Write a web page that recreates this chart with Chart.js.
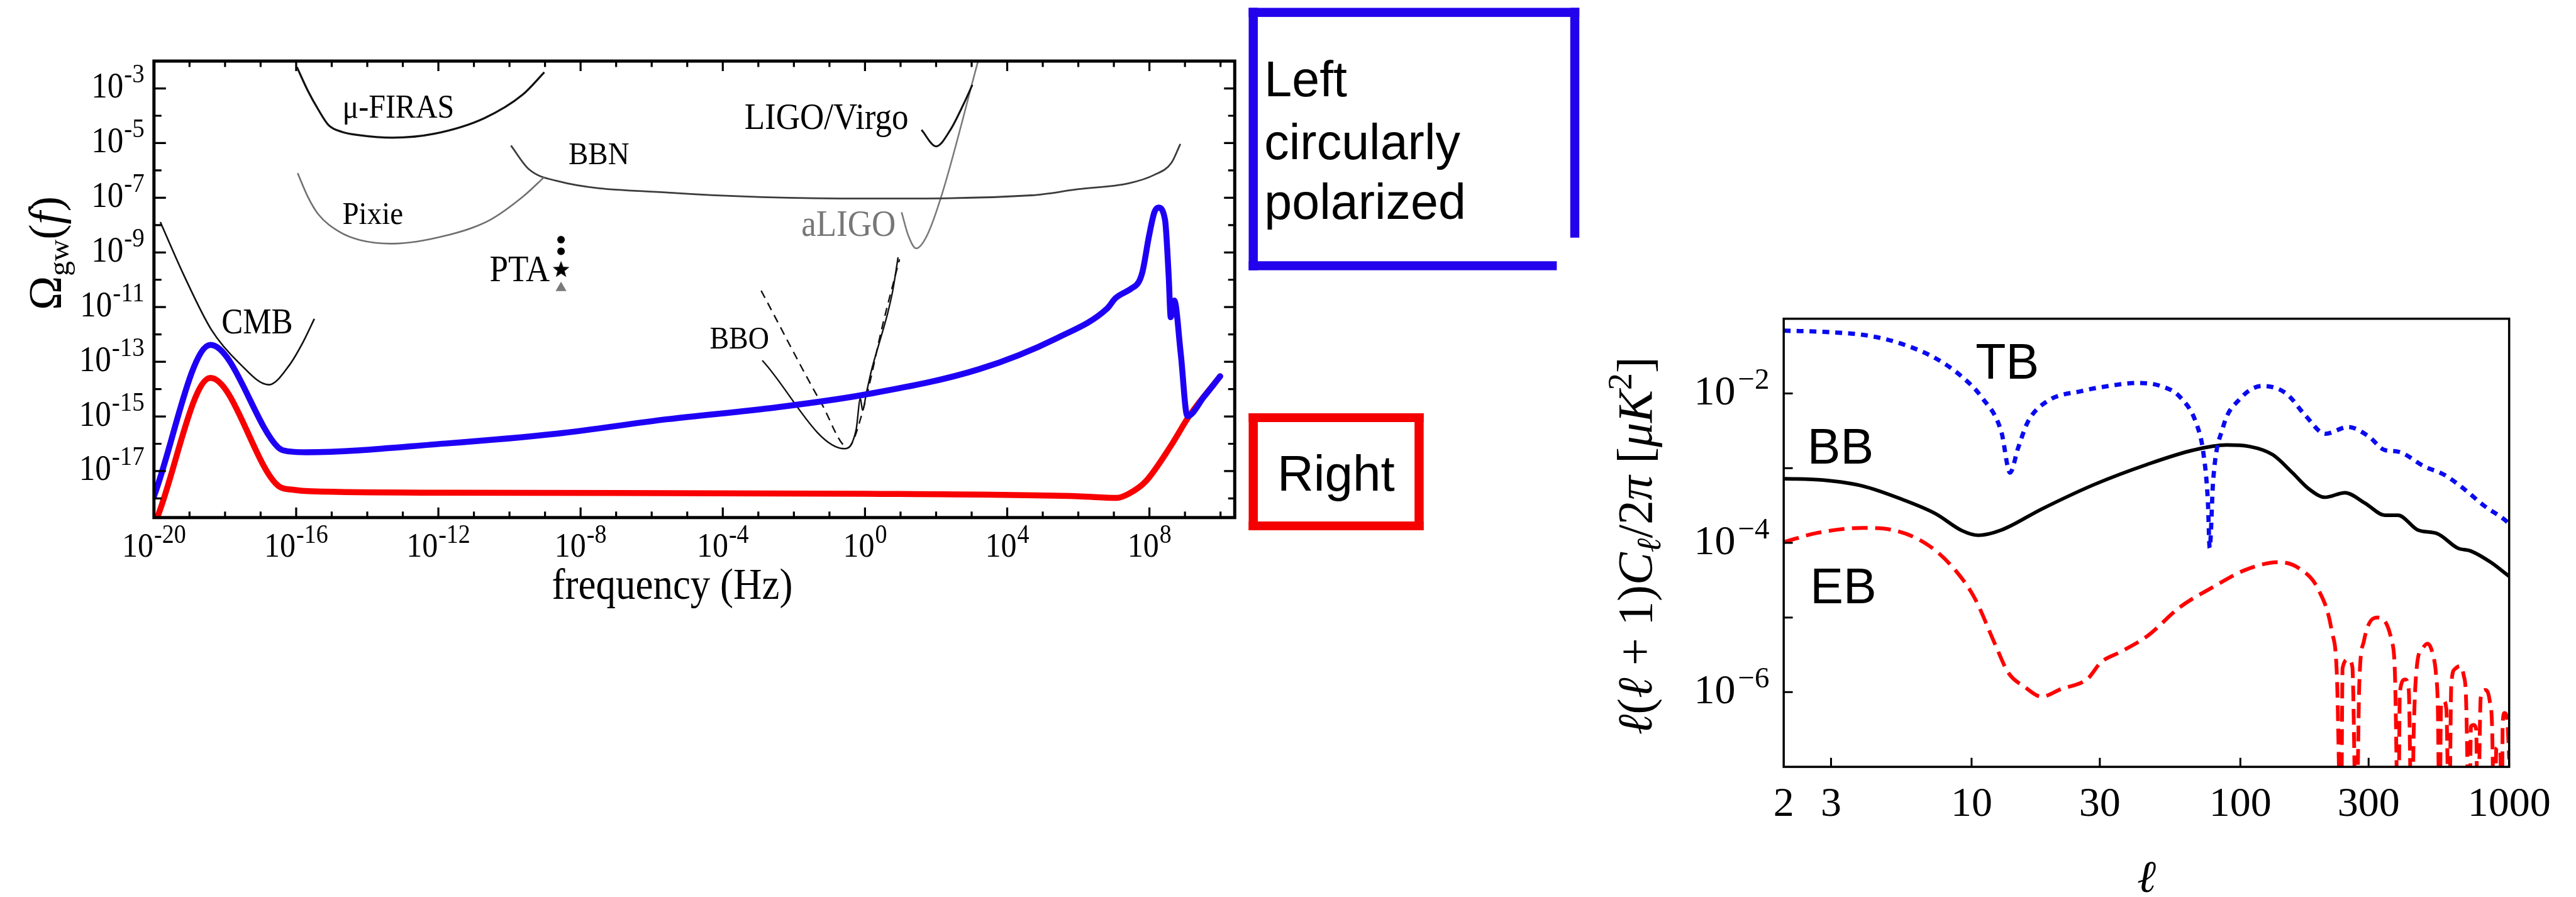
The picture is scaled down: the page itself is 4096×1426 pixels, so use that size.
<!DOCTYPE html>
<html>
<head>
<meta charset="utf-8">
<script src="https://cdn.jsdelivr.net/npm/chart.js@4.4.1/dist/chart.umd.min.js"></script>
<style>
html,body{margin:0;padding:0;background:#ffffff;}
body{position:relative;width:4096px;height:1426px;overflow:hidden;}
canvas{position:absolute;display:block;}
</style>
</head>
<body>
<canvas id="deco" width="4096" height="1426" style="left:0;top:0;width:4096px;height:1426px"></canvas>
<canvas id="gwChart" width="2000" height="1000" style="left:0;top:0;width:2000px;height:1000px"></canvas>
<canvas id="clChart" width="1596" height="1026" style="left:2500px;top:400px;width:1596px;height:1026px"></canvas>
<script>
// ================= DATA: left panel  (frequency [Hz], Omega_gw) =================
const leftPolFreq  = [1e-20, 3.89e-19, 3.16e-17, 6.31e-17, 1.91e-16, 1.55e-12, 2.09e-9, 2.82e-6, 3.16e-3, 1, 1.62e3, 2.63e5, 6.61e6, 1.1e7, 3.02e7, 5.01e7, 6.46e7, 9.77e7, 1.38e8, 1.78e8, 2.75e8, 3.47e8, 3.98e8, 5.01e8, 7.59e8, 1.17e9, 3.47e9, 9.77e9];
const leftPolOmega = [1.2e-18, 4.17e-13, 7.24e-17, 5.25e-17, 4.9e-17, 1.02e-16, 2.34e-16, 7.94e-16, 2.14e-15, 6.31e-15, 5.37e-14, 7.59e-13, 9.12e-12, 2.09e-11, 4.68e-11, 8.32e-11, 2.09e-10, 4.07e-9, 2.95e-8, 4.37e-8, 1.55e-8, 1.51e-10, 4.27e-12, 1.74e-11, 2.04e-13, 1.02e-15, 5.37e-15, 2.95e-14];

const rightPolFreq  = [1.32e-20, 3.89e-19, 3.16e-17, 7.94e-17, 2.75e-16, 1.55e-12, 1.2, 1e6, 1.2e7, 2.69e7, 7.94e7, 4.17e8, 1.26e9, 9.77e9];
const rightPolOmega = [2.51e-19, 2.57e-14, 2.88e-18, 2.09e-18, 1.82e-18, 1.62e-18, 1.48e-18, 1.2e-18, 1.05e-18, 1.51e-18, 4.27e-18, 9.12e-17, 9.55e-16, 2.95e-14];

const cmbFreq  = [1.51e-20, 6.92e-20, 4.17e-19, 2.51e-18, 1.7e-17, 6.46e-17, 1.58e-16, 3.24e-16];
const cmbOmega = [1.29e-8, 1.48e-10, 1.45e-12, 8.91e-14, 1.45e-14, 7.59e-14, 5.37e-13, 3.72e-12];

const firasFreq  = [1.05e-16, 2.14e-16, 4.17e-16, 8.13e-16, 1.95e-15, 5.89e-15, 5.01e-14, 7.59e-13, 1.95e-11, 2.4e-10, 9.55e-10];
const firasOmega = [6.03e-3, 8.13e-4, 1.7e-4, 4.57e-5, 2.57e-5, 1.95e-5, 1.58e-5, 2.19e-5, 8.13e-5, 6.03e-4, 3.89e-3];

const pixieFreq  = [1.1e-16, 2.14e-16, 4.17e-16, 1.66e-15, 6.31e-15, 5.01e-14, 1.55e-12, 2.75e-11, 2.4e-10, 9.55e-10];
const pixieOmega = [7.94e-7, 1.07e-7, 2.51e-8, 5.62e-9, 2.82e-9, 2.09e-9, 4.07e-9, 1.51e-8, 1.1e-7, 5.75e-7];

const bbnFreq  = [1.1e-10, 3.47e-10, 2.09e-9, 2.82e-6, 1.2, 4.79e4, 9.33e5, 2.63e7, 1.38e8, 4.17e8, 7.41e8];
const bbnOmega = [8.13e-6, 1.12e-6, 4.17e-7, 1.55e-7, 9.33e-8, 1.23e-7, 2.04e-7, 3.39e-7, 6.92e-7, 1.91e-6, 9.33e-6];

const ligoFreq  = [38.9, 100, 251, 589, 1047];
const ligoOmega = [3.02e-5, 7.59e-6, 3.02e-5, 2.63e-4, 1.35e-3];

const aligoFreq  = [10.7, 16.6, 27.5, 55, 151, 1514];
const aligoOmega = [2.95e-8, 4.07e-9, 1.41e-9, 4.07e-9, 1.55e-7, 1e-2];

const bboFreq  = [1.29e-3, 0.269, 0.562, 0.741, 0.851, 1.1, 1.55, 2.57, 4.27, 6.03, 8.51];
const bboOmega = [1.12e-13, 6.61e-17, 3.24e-16, 4.57e-15, 1.7e-15, 7.41e-15, 5.37e-14, 5.37e-13, 5.5e-12, 3.98e-11, 6.61e-10];

const bboDashFreq  = [1.2e-3, 0.0617, 0.339, 0.479, 1.1, 3.09, 9.33];
const bboDashOmega = [3.98e-11, 2.75e-15, 7.24e-17, 1.41e-16, 5.37e-15, 2.04e-12, 5.62e-10];

const ptaFreq = [2.82e-9];
const ptaCircleOmega = [2.95e-9, 1.1e-9];
const ptaStarOmega = [2.45e-10];
const ptaTriangleOmega = [5.01e-11];

const gwLabelTexts = ['μ-FIRAS', 'LIGO/Virgo', 'BBN', 'Pixie', 'aLIGO', 'PTA', 'CMB', 'BBO'];
const gwLabelFreq  = [2e-15, 4.07e-4, 4.57e-9, 2e-15, 1.62e-2, 2.75e-11, 7.94e-19, 4.27e-5];
const gwLabelOmega = [8.32e-5, 3.24e-5, 1.66e-6, 1.1e-8, 4.07e-9, 9.12e-11, 1.12e-12, 3.02e-13];

const gwXTickValues = [1e-20, 1e-16, 1e-12, 1e-8, 1e-4, 1, 1e4, 1e8];
const gwXTickExps   = ['-20', '-16', '-12', '-8', '-4', '0', '4', '8'];
const gwYTickValues = [1e-3, 1e-5, 1e-7, 1e-9, 1e-11, 1e-13, 1e-15, 1e-17];
const gwYTickExps   = ['-3', '-5', '-7', '-9', '-11', '-13', '-15', '-17'];
const gwXTitle = 'frequency (Hz)';

const boxLeftLines = ['Left', 'circularly', 'polarized'];
const boxRightText = 'Right';

// ================= DATA: right panel  (multipole l, l(l+1)C_l/2pi) =================
const tbEll = [2, 2.97, 4.18, 5.53, 7.35, 9.23, 10.9, 12.9, 13.9, 14.9, 16.2, 19.2, 25.5, 33.9, 41.3, 50.4, 59.7, 68.7, 72.8, 75.7, 76.9, 79.2, 86.1, 99.3, 121, 148, 175, 207, 252, 299, 345, 386, 484, 574, 680, 805, 982, 1000];
const tbVal = [6.92e-2, 6.61e-2, 5.89e-2, 4.57e-2, 2.95e-2, 1.66e-2, 8.91e-3, 3.09e-3, 8.71e-4, 1.86e-3, 4.17e-3, 7.94e-3, 1.07e-2, 1.29e-2, 1.38e-2, 1.26e-2, 8.91e-3, 3.89e-3, 1.62e-3, 3.63e-4, 8.51e-5, 6.76e-4, 3.47e-3, 8.32e-3, 1.26e-2, 1e-2, 5.01e-3, 2.88e-3, 3.55e-3, 2.69e-3, 1.74e-3, 1.66e-3, 1.05e-3, 8.13e-4, 5.25e-4, 3.16e-4, 1.91e-4, 1.78e-4];

const bbEll = [2, 2.8, 3.94, 5.53, 7.35, 9.23, 10.6, 12.9, 18.2, 28.6, 45, 66.8, 88.7, 108, 132, 156, 180, 207, 245, 291, 345, 386, 458, 542, 643, 720, 853, 1000];
const bbVal = [7.24e-4, 6.92e-4, 5.75e-4, 3.8e-4, 2.45e-4, 1.45e-4, 1.26e-4, 1.48e-4, 2.82e-4, 6.03e-4, 1.12e-3, 1.74e-3, 2.04e-3, 1.95e-3, 1.51e-3, 8.71e-4, 5.25e-4, 4.07e-4, 4.68e-4, 3.39e-4, 2.34e-4, 2.34e-4, 1.48e-4, 1.32e-4, 8.51e-5, 7.76e-5, 5.5e-5, 3.55e-5];

const ebEll = [2, 2.65, 3.94, 5.24, 6.95, 8.71, 10.3, 12.2, 13.7, 15.8, 18.2, 21.5, 27, 30.3, 35.9, 45, 59.7, 79.3, 105, 139, 165, 196, 219, 228.6, 237, 240, 252, 261, 270, 277, 288, 322, 366, 376, 387, 392, 410, 423, 434, 442, 455, 475, 497, 519, 535, 543, 551, 558, 571, 584, 598, 609, 628, 657, 677, 691, 711, 721, 738, 754, 764, 784, 817, 847, 864, 881, 896, 906, 927, 940, 946, 961, 985, 1000];
const ebVal = [1.02e-4, 1.35e-4, 1.58e-4, 1.45e-4, 9.12e-5, 4.27e-5, 1.78e-5, 4.47e-6, 1.82e-6, 1.17e-6, 8.71e-7, 1.1e-6, 1.51e-6, 2.51e-6, 3.47e-6, 5.62e-6, 1.38e-5, 2.57e-5, 4.37e-5, 5.5e-5, 4.57e-5, 2.29e-5, 6.46e-6, 1.7e-6, 1e-8, 2.09e-6, 2.75e-6, 2.19e-6, 1e-8, 1.29e-6, 4.79e-6, 1e-5, 4.79e-6, 1.7e-6, 1e-8, 1e-6, 1.48e-6, 1.1e-6, 1e-8, 3.47e-7, 2.45e-6, 3.8e-6, 4.47e-6, 3.31e-6, 1.66e-6, 5.89e-7, 1e-8, 6.92e-7, 7.59e-7, 5.89e-7, 1e-8, 1.23e-6, 2.04e-6, 2.24e-6, 1.7e-6, 8.51e-7, 1e-8, 3.47e-7, 3.63e-7, 3.16e-7, 1e-8, 8.51e-7, 1.07e-6, 7.59e-7, 3.47e-7, 1e-8, 1.74e-7, 1.82e-7, 1.58e-7, 1e-8, 3.8e-7, 5.25e-7, 3.98e-7, 1.26e-7];

const clLabelTexts = ['TB', 'BB', 'EB'];
const clLabelEll   = [10.35, 2.45, 2.51];
const clLabelVal   = [1.58e-2, 1.15e-3, 1.55e-5];

const clXTickValues = [2, 3, 10, 30, 100, 300, 1000];
const clXTickLabels = ['2', '3', '10', '30', '100', '300', '1000'];
const clYTickValues = [1e-2, 1e-4, 1e-6];
const clYTickExps   = ['\u22122', '\u22124', '\u22126'];
const clYMinorValues = [1e-3, 1e-5];

// ================= helpers =================
const pairs = (xs, ys) => xs.map((x, i) => ({x: x, y: ys[i]}));
const SERIF = '"Liberation Serif", "Times New Roman", serif';
const SANS = '"Liberation Sans", Arial, sans-serif';

function drawPow(ctx, x, y, base, exp, bf, ef, rise, align, gap, stretch) {
  stretch = stretch || 1;
  ctx.font = bf; const wb = ctx.measureText(base).width;
  ctx.font = ef; const we = ctx.measureText(exp).width;
  const w = wb + gap + we;
  const x0 = align === 'center' ? x - w / 2 : (align === 'right' ? x - w : x);
  ctx.save();
  ctx.translate(x0, y); ctx.scale(1, stretch);
  ctx.textAlign = 'left'; ctx.textBaseline = 'alphabetic';
  ctx.font = bf; ctx.fillText(base, 0, 0);
  ctx.font = ef; ctx.fillText(exp, wb + gap, -rise / stretch);
  ctx.restore();
}
function runsWidth(ctx, runs, size) {
  let w = 0;
  for (const r of runs) {
    ctx.font = (r.italic ? 'italic ' : '') + (size * (r.scale || 1)) + 'px ' + SERIF;
    w += ctx.measureText(r.t).width;
  }
  return w;
}
function drawRuns(ctx, runs, size) {
  let x = 0;
  ctx.textAlign = 'left'; ctx.textBaseline = 'alphabetic';
  for (const r of runs) {
    ctx.font = (r.italic ? 'italic ' : '') + (size * (r.scale || 1)) + 'px ' + SERIF;
    ctx.fillText(r.t, x, (r.dy || 0) * size);
    x += ctx.measureText(r.t).width;
  }
}
function makeStar(r, color) {
  const c = document.createElement('canvas');
  c.width = c.height = Math.ceil(2 * r + 2);
  const g = c.getContext('2d');
  g.fillStyle = color; g.beginPath();
  for (let i = 0; i < 10; i++) {
    const a = -Math.PI / 2 + i * Math.PI / 5;
    const rr = (i % 2) ? r * 0.42 : r;
    g.lineTo(c.width / 2 + rr * Math.cos(a), c.height / 2 + 0.08 * r + rr * Math.sin(a));
  }
  g.closePath(); g.fill();
  return c;
}

// ================= decorations outside the charts =================
(function () {
  const dc = document.getElementById('deco').getContext('2d');
  dc.fillStyle = '#2302ec';
  dc.fillRect(1985.5, 12.5, 14.5, 417.1);
  dc.fillRect(1985.5, 12.5, 525.7, 14.4);
  dc.fillRect(2496.8, 12.5, 14.4, 365.3);
  dc.fillRect(1985.5, 415.3, 489.9, 14.3);
  dc.fillStyle = '#f40000';
  dc.fillRect(1985.5, 657, 14.5, 186);
  dc.fillRect(2249.2, 657, 14.5, 186);
  dc.fillRect(1985.5, 657, 278.2, 14);
  dc.fillRect(1985.5, 829, 278.2, 14);
  dc.fillStyle = '#000';
  dc.textAlign = 'left'; dc.textBaseline = 'alphabetic';
  dc.font = '79px ' + SANS;
  dc.fillText(boxLeftLines[0], 2010.3, 153);
  dc.fillText(boxLeftLines[1], 2010.3, 253);
  dc.fillText(boxLeftLines[2], 2010.3, 347.8);
  dc.font = '80px ' + SANS;
  dc.fillText(boxRightText, 2031, 780);
})();

// ================= left chart =================
const gwLabelStyle = {
  'μ-FIRAS': {size: 48, color: '#000'}, 'LIGO/Virgo': {size: 53, color: '#000'},
  'BBN': {size: 47, color: '#000'}, 'Pixie': {size: 47, color: '#000'},
  'aLIGO': {size: 53, color: '#777'}, 'PTA': {size: 53, color: '#000'},
  'CMB': {size: 51, color: '#000'}, 'BBO': {size: 46, color: '#000'}
};
const TXT_STRETCH = 1.1;

const gwDecor = {
  id: 'gwDecor',
  afterDatasetsDraw(chart) {
    const ctx = chart.ctx, a = chart.chartArea, xs = chart.scales.x, ys = chart.scales.y;
    ctx.save();
    ctx.strokeStyle = '#000'; ctx.lineWidth = 5;
    ctx.strokeRect(a.left, a.top, a.right - a.left, a.bottom - a.top);
    ctx.lineWidth = 3.2; ctx.beginPath();
    for (let e = -19; e <= 10; e++) {
      const px = xs.getPixelForValue(Math.pow(10, e));
      const L = (e % 4 === 0) ? 16 : 9.5;
      ctx.moveTo(px, a.bottom); ctx.lineTo(px, a.bottom - L);
      ctx.moveTo(px, a.top); ctx.lineTo(px, a.top + L);
    }
    for (let e = -18; e <= -3; e++) {
      const py = ys.getPixelForValue(Math.pow(10, e));
      const major = (e % 2 !== 0);
      ctx.moveTo(a.left, py); ctx.lineTo(a.left + (major ? 19 : 12), py);
      ctx.moveTo(a.right, py); ctx.lineTo(a.right - (major ? 17 : 10.5), py);
    }
    ctx.stroke();
    ctx.fillStyle = '#000';
    gwXTickValues.forEach((v, i) => {
      drawPow(ctx, xs.getPixelForValue(v), a.bottom + 62.6, '10', gwXTickExps[i],
        '50px ' + SERIF, '38px ' + SERIF, 22, 'center', 1, TXT_STRETCH);
    });
    gwYTickValues.forEach((v, i) => {
      drawPow(ctx, a.left - 15, ys.getPixelForValue(v) + 14.5, '10', gwYTickExps[i],
        '51px ' + SERIF, '39px ' + SERIF, 24, 'right', 1, TXT_STRETCH);
    });
    gwLabelTexts.forEach((t, i) => {
      const st = gwLabelStyle[t];
      ctx.save();
      ctx.translate(xs.getPixelForValue(gwLabelFreq[i]), ys.getPixelForValue(gwLabelOmega[i]));
      ctx.scale(1, TXT_STRETCH);
      ctx.font = st.size + 'px ' + SERIF; ctx.fillStyle = st.color;
      ctx.textAlign = 'left'; ctx.textBaseline = 'alphabetic';
      ctx.fillText(t, 0, 0);
      ctx.restore();
    });
    ctx.fillStyle = '#000';
    ctx.save();
    ctx.translate(1069, 952); ctx.scale(1, TXT_STRETCH);
    ctx.font = '63px ' + SERIF; ctx.textAlign = 'center'; ctx.textBaseline = 'alphabetic';
    ctx.fillText(gwXTitle, 0, 0);
    ctx.restore();
    const titleRuns = [{t: 'Ω'}, {t: 'gw', scale: 0.65, dy: 0.17}, {t: '('}, {t: 'f', italic: true}, {t: ')'}];
    const tSize = 72 * 181 / runsWidth(ctx, titleRuns, 72);
    ctx.save();
    ctx.translate(97, 493); ctx.rotate(-Math.PI / 2);
    drawRuns(ctx, titleRuns, tSize);
    ctx.restore();
    ctx.restore();
  }
};

const thinLine = (data, color, width, dash) => ({
  data: data, borderColor: color, borderWidth: width, borderDash: dash || [],
  pointRadius: 0, fill: false, cubicInterpolationMode: 'monotone'
});

new Chart(document.getElementById('gwChart'), {
  type: 'line',
  data: {
    datasets: [
      {label: 'Left circularly polarized', ...thinLine(pairs(leftPolFreq, leftPolOmega), '#1e00f5', 9.5), borderCapStyle: 'round', borderJoinStyle: 'round'},
      {label: 'Right', ...thinLine(pairs(rightPolFreq, rightPolOmega), '#f80000', 9.5), borderCapStyle: 'round', borderJoinStyle: 'round'},
      {label: 'PTA circles', data: pairs([ptaFreq[0], ptaFreq[0]], ptaCircleOmega), showLine: false, pointRadius: 6, pointStyle: 'circle', pointBackgroundColor: '#000', pointBorderWidth: 0},
      {label: 'PTA star', data: pairs(ptaFreq, ptaStarOmega), showLine: false, pointRadius: 14, pointStyle: makeStar(14, '#000')},
      {label: 'PTA triangle', data: pairs(ptaFreq, ptaTriangleOmega), showLine: false, pointRadius: 10, pointStyle: 'triangle', pointBackgroundColor: '#7a7a7a', pointBorderColor: '#7a7a7a', pointBorderWidth: 0},
      {label: 'CMB', ...thinLine(pairs(cmbFreq, cmbOmega), '#111', 2.6)},
      {label: 'mu-FIRAS', ...thinLine(pairs(firasFreq, firasOmega), '#111', 3.2)},
      {label: 'Pixie', ...thinLine(pairs(pixieFreq, pixieOmega), '#6f6f6f', 2.6)},
      {label: 'BBN', ...thinLine(pairs(bbnFreq, bbnOmega), '#3c3c3c', 2.8)},
      {label: 'LIGO/Virgo', ...thinLine(pairs(ligoFreq, ligoOmega), '#111', 3)},
      {label: 'aLIGO', ...thinLine(pairs(aligoFreq, aligoOmega), '#7a7a7a', 2.6)},
      {label: 'BBO', ...thinLine(pairs(bboFreq, bboOmega), '#111', 2.4)},
      {label: 'BBO dashed', ...thinLine(pairs(bboDashFreq, bboDashOmega), '#111', 2.4, [13, 9])}
    ]
  },
  options: {
    responsive: false, animation: false, devicePixelRatio: 1,
    layout: {padding: {left: 244.8, top: 97.1, right: 36.7, bottom: 177.2}},
    scales: {
      x: {type: 'logarithmic', min: 1e-20, max: 2.51e10, display: false},
      y: {type: 'logarithmic', min: 2.0e-19, max: 1e-2, display: false}
    },
    plugins: {legend: {display: false}, tooltip: {enabled: false}, title: {display: false}}
  },
  plugins: [gwDecor]
});

// ================= right chart =================
const clDecor = {
  id: 'clDecor',
  afterDatasetsDraw(chart) {
    const ctx = chart.ctx, a = chart.chartArea, xs = chart.scales.x, ys = chart.scales.y;
    ctx.save();
    ctx.strokeStyle = '#000'; ctx.lineWidth = 3.5;
    ctx.strokeRect(a.left, a.top, a.right - a.left, a.bottom - a.top);
    ctx.lineWidth = 3; ctx.beginPath();
    clXTickValues.slice(1, -1).forEach(v => {
      const px = xs.getPixelForValue(v);
      ctx.moveTo(px, a.bottom); ctx.lineTo(px, a.bottom - 14.4);
    });
    clYTickValues.concat(clYMinorValues).forEach(v => {
      const py = ys.getPixelForValue(v);
      ctx.moveTo(a.left, py); ctx.lineTo(a.left + 14.4, py);
    });
    ctx.stroke();
    ctx.fillStyle = '#000';
    ctx.font = '66px ' + SERIF; ctx.textAlign = 'center'; ctx.textBaseline = 'alphabetic';
    clXTickValues.forEach((v, i) => ctx.fillText(clXTickLabels[i], xs.getPixelForValue(v), a.bottom + 78));
    clYTickValues.forEach((v, i) => {
      drawPow(ctx, a.left - 22.6, ys.getPixelForValue(v) + 18, '10', clYTickExps[i],
        '66px ' + SERIF, '47px ' + SERIF, 25, 'right', 4, 1);
    });
    ctx.font = '79px ' + SANS; ctx.textAlign = 'left';
    clLabelTexts.forEach((t, i) => ctx.fillText(t, xs.getPixelForValue(clLabelEll[i]), ys.getPixelForValue(clLabelVal[i])));
    // axis titles
    ctx.font = 'italic 72px ' + SERIF; ctx.textAlign = 'center';
    ctx.fillText('ℓ', (a.left + a.right) / 2, a.bottom + 199);
    const runs = [
      {t: 'ℓ', italic: true}, {t: '('}, {t: 'ℓ', italic: true}, {t: ' + 1)'}, {t: 'C', italic: true},
      {t: 'ℓ', italic: true, scale: 0.7, dy: 0.18}, {t: '/2'}, {t: 'π', italic: true}, {t: ' ['},
      {t: 'μK', italic: true}, {t: '2', scale: 0.7, dy: -0.42}, {t: ']'}
    ];
    const base = 72;
    const size = base * 601 / runsWidth(ctx, runs, base);
    ctx.save();
    ctx.translate(a.left - 210, (a.top + a.bottom) / 2 + 4.6 + 300.5);
    ctx.rotate(-Math.PI / 2);
    drawRuns(ctx, runs, size);
    ctx.restore();
    ctx.restore();
  }
};

new Chart(document.getElementById('clChart'), {
  type: 'line',
  data: {
    datasets: [
      {label: 'TB', ...thinLine(pairs(tbEll, tbVal), '#0a0af0', 6.8, [11, 9.5])},
      {label: 'BB', ...thinLine(pairs(bbEll, bbVal), '#000', 5.7)},
      {label: 'EB', ...thinLine(pairs(ebEll, ebVal), '#ff0000', 6, [25, 12])}
    ]
  },
  options: {
    responsive: false, animation: false, devicePixelRatio: 1,
    layout: {padding: {left: 336.2, top: 106.7, right: 106.3, bottom: 206.9}},
    scales: {
      x: {type: 'logarithmic', min: 2, max: 1000, display: false},
      y: {type: 'logarithmic', min: 1e-7, max: 1e-1, display: false}
    },
    plugins: {legend: {display: false}, tooltip: {enabled: false}, title: {display: false}}
  },
  plugins: [clDecor]
});
</script>
</body>
</html>
